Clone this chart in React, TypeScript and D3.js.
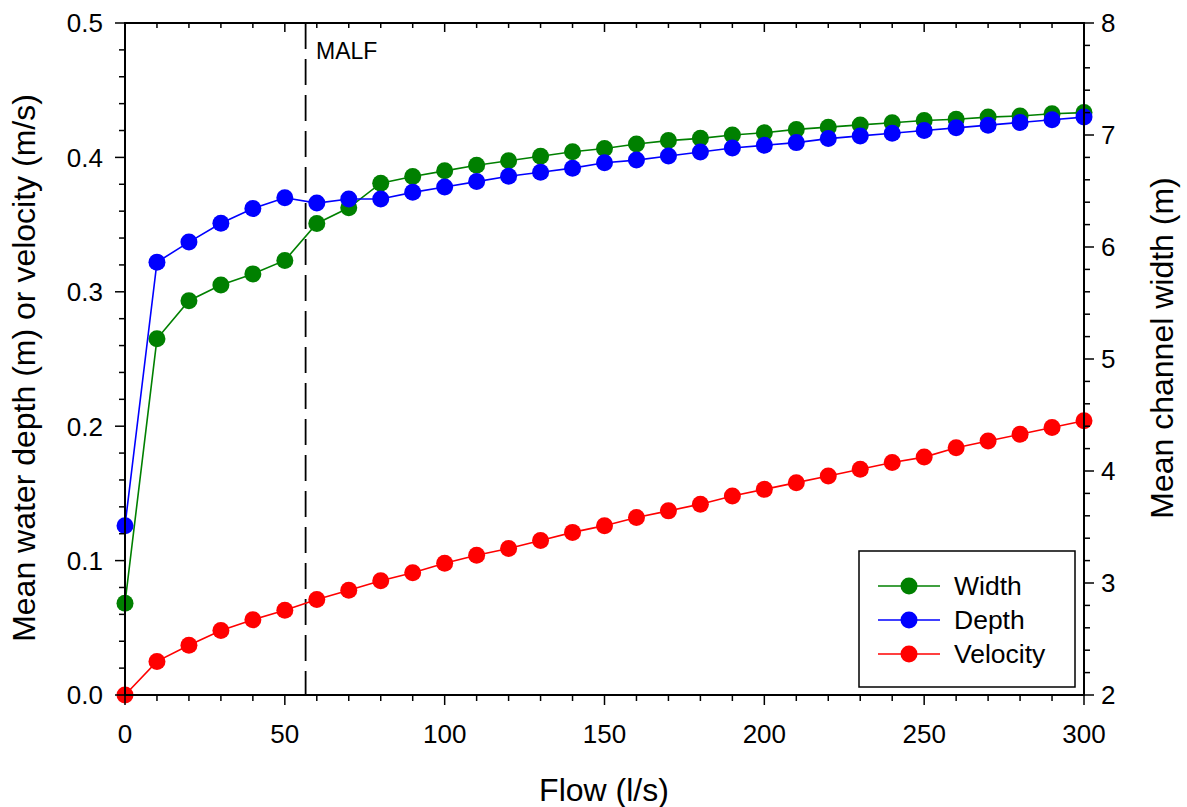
import React from "react";
import * as d3 from "d3";

const flow = [0, 10, 20, 30, 40, 50, 60, 70, 80, 90, 100, 110, 120, 130, 140, 150, 160, 170, 180, 190, 200, 210, 220, 230, 240, 250, 260, 270, 280, 290, 300];
const widthM = [2.82, 5.18, 5.52, 5.66, 5.76, 5.88, 6.21, 6.35, 6.57, 6.63, 6.68, 6.73, 6.77, 6.81, 6.85, 6.88, 6.92, 6.95, 6.97, 7.0, 7.02, 7.05, 7.07, 7.09, 7.11, 7.13, 7.14, 7.16, 7.17, 7.19, 7.2];
const depthM = [0.126, 0.322, 0.337, 0.351, 0.362, 0.37, 0.366, 0.369, 0.369, 0.374, 0.378, 0.382, 0.386, 0.389, 0.392, 0.396, 0.398, 0.401, 0.404, 0.407, 0.409, 0.411, 0.414, 0.416, 0.418, 0.42, 0.422, 0.424, 0.426, 0.428, 0.43];
const velocity = [0, 0.025, 0.037, 0.048, 0.056, 0.063, 0.071, 0.078, 0.085, 0.091, 0.098, 0.104, 0.109, 0.115, 0.121, 0.126, 0.132, 0.137, 0.142, 0.148, 0.153, 0.158, 0.163, 0.168, 0.173, 0.177, 0.184, 0.189, 0.194, 0.199, 0.204];
const malf = 56.5;

const xTicks = [0, 50, 100, 150, 200, 250, 300];
const leftTicks = [0, 0.1, 0.2, 0.3, 0.4, 0.5];
const rightTicks = [2, 3, 4, 5, 6, 7, 8];

const legendItems = [
  { label: "Width", color: "#008000" },
  { label: "Depth", color: "#0000ff" },
  { label: "Velocity", color: "#ff0000" },
];

const L = 125, R = 1084, T = 23, B = 695;
const FONT = "Arial, 'Liberation Sans', sans-serif";

export default function App() {
  const x = d3.scaleLinear().domain([0, 300]).range([L, R]);
  const yL = d3.scaleLinear().domain([0, 0.5]).range([B, T]);
  const yR = d3.scaleLinear().domain([2, 8]).range([B, T]);

  const xMinor = d3.range(0, 301, 10);
  const lMinor = d3.range(0, 0.5001, 0.02);
  const rMinor = d3.range(2, 8.001, 0.2);

  const series = [
    { vals: widthM, y: yR, color: "#008000" },
    { vals: depthM, y: yL, color: "#0000ff" },
    { vals: velocity, y: yL, color: "#ff0000" },
  ];

  const line = (vals: number[], y: d3.ScaleLinear<number, number>) =>
    d3.line<number>().x((_, i) => x(flow[i])).y((v) => y(v))(vals) || "";

  return (
    <svg width={1187} height={807} style={{ position: "absolute", left: 0, top: 0, background: "#fff" }} fontFamily={FONT}>
      <rect x={0} y={0} width={1187} height={807} fill="#fff" />
      {/* dashed MALF line */}
      <line x1={x(malf)} x2={x(malf)} y1={T} y2={B} stroke="#000" strokeWidth={1.8} strokeDasharray="26,10" />
      <text x={316} y={59} fontSize={23}>MALF</text>

      {series.map((s, k) => (
        <g key={k}>
          <path d={line(s.vals, s.y)} fill="none" stroke={s.color} strokeWidth={1.6} />
          {s.vals.map((v, i) => (
            <circle key={i} cx={x(flow[i])} cy={s.y(v)} r={8.5} fill={s.color} />
          ))}
        </g>
      ))}

      {/* frame */}
      <rect x={L} y={T} width={R - L} height={B - T} fill="none" stroke="#000" strokeWidth={2} />

      {/* x ticks (bottom outward, top inward) */}
      {xMinor.map((t) => (
        <g key={"xm" + t}>
          <line x1={x(t)} x2={x(t)} y1={B} y2={B + (t % 50 === 0 ? 10 : 6)} stroke="#000" strokeWidth={1.5} />
          <line x1={x(t)} x2={x(t)} y1={T} y2={T + (t % 50 === 0 ? 9 : 5)} stroke="#000" strokeWidth={1.5} />
        </g>
      ))}
      {xTicks.map((t) => (
        <text key={"xl" + t} x={x(t)} y={743} fontSize={26} textAnchor="middle">{t}</text>
      ))}

      {/* left ticks */}
      {lMinor.map((t, i) => (
        <line key={"lm" + i} x1={L} x2={L - (i % 5 === 0 ? 10 : 6)} y1={yL(t)} y2={yL(t)} stroke="#000" strokeWidth={1.5} />
      ))}
      {leftTicks.map((t) => (
        <text key={"ll" + t} x={103} y={yL(t) + 9.3} fontSize={26} textAnchor="end">{t.toFixed(1)}</text>
      ))}

      {/* right ticks */}
      {rMinor.map((t, i) => (
        <line key={"rm" + i} x1={R} x2={R + (i % 5 === 0 ? 10 : 6)} y1={yR(t)} y2={yR(t)} stroke="#000" strokeWidth={1.5} />
      ))}
      {rightTicks.map((t) => (
        <text key={"rl" + t} x={1101} y={yR(t) + 9.3} fontSize={26} textAnchor="start">{t}</text>
      ))}

      {/* axis titles */}
      <text x={604} y={801} fontSize={32} textAnchor="middle">Flow (l/s)</text>
      <text transform={`translate(35,368) rotate(-90)`} fontSize={32} textAnchor="middle">Mean water depth (m) or velocity (m/s)</text>
      <text transform={`translate(1173,348) rotate(-90)`} fontSize={32} textAnchor="middle">Mean channel width (m)</text>

      {/* legend */}
      <rect x={859} y={551} width={216} height={136} fill="#fff" stroke="#000" strokeWidth={1.5} />
      {legendItems.map((it, i) => {
        const cy = 586 + i * 34;
        return (
          <g key={it.label}>
            <line x1={878} x2={940} y1={cy} y2={cy} stroke={it.color} strokeWidth={1.6} />
            <circle cx={909} cy={cy} r={8.5} fill={it.color} />
            <text x={954} y={cy + 9} fontSize={26.5}>{it.label}</text>
          </g>
        );
      })}
    </svg>
  );
}
